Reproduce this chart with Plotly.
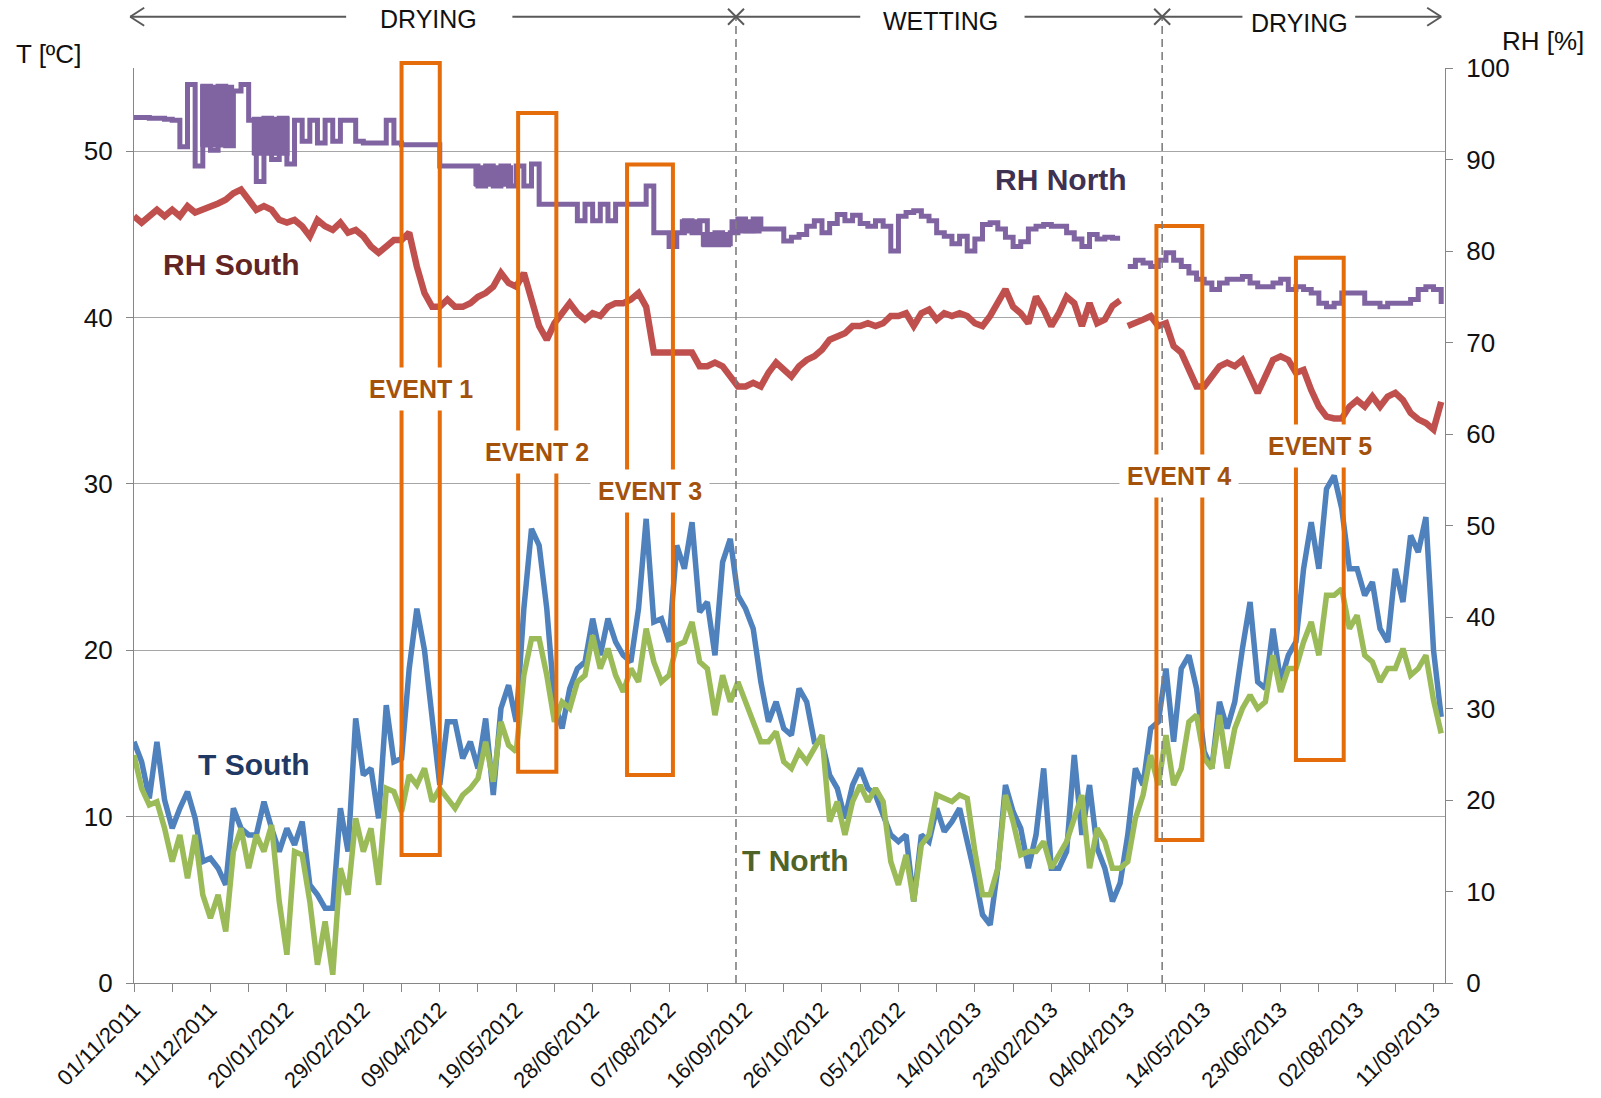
import pandas as pd
import plotly.graph_objects as go

# ---- data: readings sampled every 4 days from 01/11/2011 ----
START = pd.Timestamp("2011-11-01")
END = pd.Timestamp("2013-09-17")
STEP_DAYS = 4
LOGGER_GAP_DAY = 518  # RH loggers were offline briefly around this day

t_south = [
    14.5, 13.3, 11.1, 14.5, 11.0, 9.3, 10.5, 11.5, 9.9, 7.3,
    7.5, 6.9, 5.9, 10.5, 9.3, 8.9, 8.9, 10.9, 9.3, 7.9,
    9.3, 8.3, 9.7, 5.9, 5.3, 4.5, 4.5, 10.5, 7.9, 15.9,
    12.5, 12.9, 9.9, 16.7, 13.3, 13.5, 18.9, 22.5, 20.0, 15.9,
    11.9, 15.7, 15.7, 13.5, 14.5, 12.9, 15.9, 11.3, 16.5, 17.9,
    15.7, 22.5, 27.3, 26.3, 22.5, 16.9, 15.3, 17.7, 18.9, 19.3,
    21.9, 19.7, 21.9, 20.5, 19.7, 19.3, 22.5, 27.9, 21.7, 21.9,
    20.5, 26.3, 24.9, 27.7, 22.3, 22.9, 19.7, 25.3, 26.7, 23.3,
    22.5, 21.3, 18.1, 15.7, 16.9, 15.3, 14.9, 17.7, 16.9, 14.5,
    14.5, 12.5, 11.7, 9.9, 11.9, 12.9, 11.7, 11.3, 10.1, 8.9,
    8.5, 8.9, 4.9, 8.9, 8.5, 10.5, 9.1, 9.7, 10.5, 8.5,
    6.5, 4.1, 3.5, 6.9, 11.9, 10.3, 9.3, 6.9, 8.9, 12.9,
    6.9, 6.9, 7.9, 13.7, 8.9, 11.9, 8.1, 6.9, 4.9, 6.0,
    8.9, 12.9, 11.9, 15.3, 15.7, 18.9, 14.5, 18.9, 19.7, 17.7,
    13.9, 12.9, 16.9, 15.3, 16.9, 20.1, 22.9, 18.1, 17.7, 21.3,
    18.1, 19.7, 20.5, 24.9, 27.7, 24.9, 29.7, 30.5, 28.5, 24.9,
    24.9, 23.3, 24.1, 21.3, 20.5, 24.9, 22.9, 26.9, 25.9, 28.0,
    20.0, 16.0,
]

t_north = [
    13.7, 11.7, 10.7, 10.9, 9.3, 7.3, 8.9, 6.3, 8.9, 5.3,
    3.9, 5.3, 3.1, 7.9, 9.3, 6.9, 8.9, 7.9, 9.5, 4.9,
    1.7, 7.9, 7.7, 4.9, 1.1, 3.7, 0.5, 6.9, 5.3, 9.9,
    7.9, 9.3, 5.9, 11.7, 11.5, 10.3, 12.5, 11.9, 12.9, 10.9,
    11.7, 11.1, 10.5, 11.3, 11.7, 12.3, 14.5, 12.1, 15.7, 14.3,
    13.9, 18.5, 20.7, 20.7, 18.5, 15.7, 16.9, 16.5, 18.1, 18.5,
    20.9, 18.9, 20.1, 18.5, 17.5, 18.9, 18.1, 21.3, 19.3, 18.1,
    18.5, 20.3, 20.5, 21.7, 19.3, 18.9, 16.1, 18.5, 16.9, 18.1,
    16.9, 15.7, 14.5, 14.5, 15.1, 13.3, 12.9, 13.9, 13.3, 14.1,
    14.9, 9.7, 10.9, 8.9, 10.9, 11.9, 10.9, 11.7, 10.9, 7.3,
    5.9, 7.7, 4.9, 8.3, 8.9, 11.3, 11.1, 10.9, 11.3, 11.1,
    7.9, 5.3, 5.3, 6.9, 11.3, 9.7, 7.7, 7.9, 7.9, 8.5,
    6.9, 7.7, 8.5, 9.9, 11.3, 6.9, 9.3, 8.5, 6.9, 6.9,
    7.3, 9.9, 11.3, 13.7, 11.9, 14.9, 11.9, 12.9, 15.7, 16.1,
    13.5, 12.9, 16.1, 12.9, 15.3, 16.5, 17.3, 16.5, 16.9, 19.7,
    17.5, 18.9, 18.9, 20.5, 21.7, 19.7, 23.3, 23.3, 23.7, 21.3,
    22.1, 19.7, 19.3, 18.1, 18.9, 18.9, 20.1, 18.5, 18.9, 19.7,
    17.0, 15.0,
]

rh_south = [
    83.8, 83.1, 83.8, 84.5, 83.8, 84.5, 83.8, 84.9, 84.2, 84.5,
    84.9, 85.2, 85.6, 86.3, 86.7, 85.6, 84.5, 84.9, 84.5, 83.4,
    83.1, 83.4, 82.7, 81.6, 83.4, 82.7, 82.3, 83.1, 82.0, 82.3,
    81.6, 80.5, 79.8, 80.5, 81.2, 81.2, 82.0, 78.3, 75.4, 73.9,
    73.9, 74.7, 73.9, 73.9, 74.3, 75.0, 75.4, 76.1, 77.6, 76.5,
    76.1, 77.6, 74.7, 71.8, 70.3, 72.1, 73.2, 74.3, 73.2, 72.5,
    73.2, 72.9, 73.9, 74.3, 74.3, 74.7, 75.4, 73.9, 68.9, 68.9,
    68.9, 68.9, 68.9, 68.9, 67.4, 67.4, 67.8, 67.4, 66.3, 65.2,
    65.2, 65.6, 65.2, 66.7, 67.8, 67.0, 66.3, 67.4, 68.1, 68.5,
    69.2, 70.3, 70.7, 71.0, 71.8, 71.8, 72.1, 71.8, 72.1, 72.9,
    72.9, 73.2, 71.8, 73.2, 73.6, 72.5, 73.2, 72.9, 73.2, 72.9,
    72.1, 71.8, 72.9, 74.3, 75.8, 73.9, 73.2, 72.1, 75.0, 73.6,
    71.8, 73.2, 75.0, 74.3, 71.8, 74.3, 72.1, 72.5, 74.0, 74.6,
    71.8, 72.1, 72.5, 72.9, 71.8, 72.1, 69.6, 68.9, 67.0, 65.2,
    65.2, 66.3, 67.4, 67.8, 67.4, 68.1, 66.3, 64.5, 66.3, 68.1,
    68.5, 68.1, 66.7, 67.0, 64.8, 63.0, 61.9, 61.7, 61.7, 63.0,
    63.7, 63.0, 64.1, 63.0, 64.1, 64.5, 63.7, 62.3, 61.6, 61.2,
    60.5, 63.5,
]

rh_north = [
    94.6, 94.6, 94.5, 94.5, 94.4, 94.3, 91.4, 98.2, 89.3, 98.0,
    91.0, 98.0, 91.5, 97.5, 98.2, 94.3, 87.6, 94.5, 90.0, 94.5,
    89.5, 94.3, 92.0, 94.3, 91.8, 94.3, 92.0, 94.3, 94.3, 92.0,
    91.8, 91.8, 91.8, 94.3, 91.8, 91.6, 91.6, 91.6, 91.6, 91.6,
    89.3, 89.3, 89.3, 89.3, 89.3, 87.1, 89.3, 87.1, 89.3, 87.1,
    89.3, 87.1, 89.5, 85.1, 85.1, 85.1, 85.1, 85.1, 83.3, 85.1,
    83.3, 85.1, 83.3, 85.1, 85.1, 85.1, 85.1, 87.1, 82.0, 82.0,
    80.5, 82.0, 83.3, 82.0, 83.3, 80.8, 82.0, 80.8, 82.0, 83.5,
    82.2, 83.5, 82.4, 82.4, 82.4, 81.1, 81.5, 81.8, 82.7, 83.3,
    82.0, 83.0, 84.0, 83.3, 83.9, 83.0, 82.7, 83.3, 82.7, 80.0,
    83.8, 84.2, 84.4, 83.8, 83.3, 82.0, 81.6, 80.8, 81.6, 80.0,
    81.3, 82.9, 83.1, 82.4, 81.5, 80.5, 81.0, 82.4, 82.7, 82.9,
    82.7, 82.7, 82.0, 81.3, 80.5, 81.8, 81.3, 81.5, 81.4, 81.4,
    78.3, 79.0, 78.7, 78.3, 79.0, 79.8, 79.0, 78.3, 77.6, 76.9,
    76.5, 75.8, 76.5, 76.9, 76.9, 77.2, 76.5, 76.1, 76.1, 76.5,
    76.9, 75.8, 76.1, 75.8, 75.4, 74.3, 73.9, 74.3, 75.4, 75.4,
    75.4, 74.3, 74.3, 73.9, 74.3, 74.3, 74.3, 74.7, 75.8, 76.1,
    75.8, 74.2,
]

# periods where the RH North sensor flickers rapidly between two levels
rh_north_band_start = ["2011-12-06", "2012-01-02", "2012-04-27", "2012-08-13", "2012-08-24", "2012-09-08"]
rh_north_band_end = ["2011-12-23", "2012-01-21", "2012-05-17", "2012-08-24", "2012-09-08", "2012-09-24"]
rh_north_band_low = [91.4, 90.5, 87.1, 82.0, 80.5, 82.0]
rh_north_band_high = [98.1, 94.6, 89.3, 83.4, 82.0, 83.4]

x_tick_dates = [
    "2011-11-01", "2011-12-11", "2012-01-20", "2012-02-29", "2012-04-09",
    "2012-05-19", "2012-06-28", "2012-08-07", "2012-09-16", "2012-10-26",
    "2012-12-05", "2013-01-14", "2013-02-23", "2013-04-04", "2013-05-14",
    "2013-06-23", "2013-08-02", "2013-09-11",
]
x_minor_dates = [
    "2011-11-21", "2011-12-31", "2012-02-09", "2012-03-20", "2012-04-29",
    "2012-06-08", "2012-07-18", "2012-08-27", "2012-10-06", "2012-11-15",
    "2012-12-25", "2013-02-03", "2013-03-15", "2013-04-24", "2013-06-03",
    "2013-07-13", "2013-08-22",
]
t_ticks = [0, 10, 20, 30, 40, 50]
rh_ticks = [0, 10, 20, 30, 40, 50, 60, 70, 80, 90, 100]

# highlighted events: window (dates) and temperature extent of each box
event_names = ["EVENT 1", "EVENT 2", "EVENT 3", "EVENT 4", "EVENT 5"]
event_start = ["2012-03-20", "2012-05-20", "2012-07-16", "2013-04-19", "2013-07-01"]
event_end = ["2012-04-09", "2012-06-09", "2012-08-09", "2013-05-13", "2013-07-26"]
event_t_low = [7.7, 12.7, 12.5, 8.6, 13.4]
event_t_high = [55.3, 52.3, 49.2, 45.5, 43.6]
event_label_t = [35.7, 31.9, 29.6, 30.5, 32.3]

# drying / wetting phase boundaries
phase_changes = ["2012-09-11", "2013-04-22"]

assert all(len(s) == 172 for s in (t_south, t_north, rh_south, rh_north))

day_offsets = list(range(0, 172 * STEP_DAYS, STEP_DAYS))
dates = list(START + pd.to_timedelta(day_offsets, unit="D"))


def with_gap(values):
    """Insert a break in the line at the logger gap."""
    xs, ys = [], []
    for d, x, v in zip(day_offsets, dates, values):
        if d - STEP_DAYS < LOGGER_GAP_DAY <= d:
            xs.append(START + pd.Timedelta(days=LOGGER_GAP_DAY))
            ys.append(None)
        xs.append(x)
        ys.append(v)
    return xs, ys


T_MAX = 55.0
SPAN_DAYS = (END - START).days


def px(date_str):
    """Paper x-fraction of a date on the time axis."""
    return (pd.Timestamp(date_str) - START).days / SPAN_DAYS


def mid(a, b):
    ta, tb = pd.Timestamp(a), pd.Timestamp(b)
    return ta + (tb - ta) / 2


BASE_FAMILY = "Liberation Sans Narrow, Arial Narrow, Liberation Sans, Arial"
TICK_FONT = dict(family=BASE_FAMILY, size=26, color="#111111")
XTICK_FONT = dict(family=BASE_FAMILY, size=22, color="#111111")
TOP_FONT = dict(family=BASE_FAMILY, size=25, color="#111111")
AXIS_GRAY = "#868686"
RH_NORTH_COLOR = "#8064A2"

# flicker bands drawn as closed polygons on the RH axis
band_x, band_y = [], []
for s, e, lo, hi in zip(rh_north_band_start, rh_north_band_end, rh_north_band_low, rh_north_band_high):
    band_x += [s, e, e, s, s, None]
    band_y += [lo, lo, hi, hi, lo, None]

rhn_x, rhn_y = with_gap(rh_north)
rhs_x, rhs_y = with_gap(rh_south)

fig = go.Figure()
fig.add_trace(go.Scatter(x=band_x, y=band_y, yaxis="y2", mode="lines", fill="toself",
                         fillcolor=RH_NORTH_COLOR, line=dict(color=RH_NORTH_COLOR, width=1.5),
                         hoverinfo="skip", name="RH North flicker"))
fig.add_trace(go.Scatter(x=rhn_x, y=rhn_y, yaxis="y2", mode="lines", name="RH North",
                         line=dict(color=RH_NORTH_COLOR, width=5, shape="hv")))
fig.add_trace(go.Scatter(x=rhs_x, y=rhs_y, yaxis="y2", mode="lines", name="RH South",
                         line=dict(color="#C0504D", width=6.5)))
fig.add_trace(go.Scatter(x=dates, y=t_south, mode="lines", name="T South",
                         line=dict(color="#4F81BD", width=5.5)))
fig.add_trace(go.Scatter(x=dates, y=t_north, mode="lines", name="T North",
                         line=dict(color="#9BBB59", width=5.5)))

shapes = []
annotations = []

# event boxes and labels
for name, s, e, lo, hi, ly in zip(event_names, event_start, event_end,
                                  event_t_low, event_t_high, event_label_t):
    shapes.append(dict(type="rect", xref="x", yref="paper", x0=s, x1=e,
                       y0=lo / T_MAX, y1=hi / T_MAX,
                       line=dict(color="#E46C0A", width=4), layer="above"))
    annotations.append(dict(x=mid(s, e), y=ly, xref="x", yref="y", text="<b>" + name + "</b>",
                            xanchor="center", yanchor="middle",
                            showarrow=False, bgcolor="white", borderpad=7,
                            font=dict(family="Liberation Sans, Arial", size=25, color="#A4520B")))

# phase boundaries
TOP_Y = 1.056
for d in phase_changes:
    shapes.append(dict(type="line", xref="x", yref="paper", x0=d, x1=d, y0=0, y1=TOP_Y,
                       line=dict(color="#7F7F7F", width=1.6, dash="8px,5px"), layer="above"))
    for dy in (-1, 1):
        shapes.append(dict(type="line", xref="x", yref="paper", xsizemode="pixel",
                           ysizemode="pixel", xanchor=d, yanchor=TOP_Y,
                           x0=-8, x1=8, y0=-8 * dy, y1=8 * dy,
                           line=dict(color="#595959", width=2)))

# phase arrow line along the top
arrow_segments = [
    ("2011-10-30", "2012-02-20"), ("2012-05-17", "2012-09-11"),
    ("2012-09-11", "2012-11-15"), ("2013-02-09", "2013-04-22"),
    ("2013-04-22", "2013-06-03"), ("2013-08-01", "2013-09-15"),
]
for a, b in arrow_segments:
    shapes.append(dict(type="line", xref="paper", yref="paper", x0=px(a), x1=px(b),
                       y0=TOP_Y, y1=TOP_Y, line=dict(color="#595959", width=2)))
for tip, sign in ((arrow_segments[0][0], 1), (arrow_segments[-1][1], -1)):
    for dy in (-1, 1):
        shapes.append(dict(type="line", xref="paper", yref="paper", xsizemode="pixel",
                           ysizemode="pixel", xanchor=px(tip), yanchor=TOP_Y,
                           x0=0, x1=14 * sign, y0=0, y1=9 * dy,
                           line=dict(color="#595959", width=2)))

for text, d, y in (("DRYING", "2012-04-03", 1.0535), ("WETTING", "2012-12-27", 1.051),
                   ("DRYING", "2013-07-03", 1.049)):
    annotations.append(dict(x=px(d), y=y, xref="paper", yref="paper", text=text,
                            xanchor="center", yanchor="middle",
                            showarrow=False, font=TOP_FONT))

# series labels
for text, d, t, color in (("RH South", "2011-12-22", 43.2, "#632523"),
                          ("RH North", "2013-02-28", 48.3, "#3F3151"),
                          ("T South", "2012-01-03", 13.15, "#1F3864"),
                          ("T North", "2012-10-12", 7.38, "#4F6228")):
    annotations.append(dict(x=d, y=t, xref="x", yref="y", text="<b>" + text + "</b>",
                            xanchor="center", yanchor="middle", showarrow=False,
                            font=dict(family="Liberation Sans, Arial", size=30, color=color)))

# axis titles
annotations.append(dict(x=-0.065, y=1.0155, xref="paper", yref="paper", text="T [ºC]",
                        xanchor="center", yanchor="middle", showarrow=False, font=TICK_FONT))
annotations.append(dict(x=1.075, y=1.029, xref="paper", yref="paper", text="RH [%]",
                        xanchor="center", yanchor="middle", showarrow=False, font=TICK_FONT))

fig.update_layout(
    width=1601, height=1098,
    margin=dict(l=134, r=156, t=68, b=115, autoexpand=False),
    paper_bgcolor="white", plot_bgcolor="white",
    showlegend=False,
    shapes=shapes, annotations=annotations,
    xaxis=dict(
        type="date", range=[START, END], automargin=False,
        tickmode="array", tickvals=x_tick_dates, tickformat="%d/%m/%Y",
        tickangle=-45, tickfont=XTICK_FONT, ticklabelstandoff=-4,
        ticks="outside", ticklen=8, tickcolor=AXIS_GRAY, tickwidth=1.3,
        minor=dict(tickmode="array", tickvals=x_minor_dates, ticks="outside",
                   ticklen=8, tickcolor=AXIS_GRAY, tickwidth=1.3, showgrid=False),
        showline=True, linecolor=AXIS_GRAY, linewidth=1.3,
        showgrid=False, zeroline=False,
    ),
    yaxis=dict(
        range=[0, T_MAX], automargin=False, tickmode="array", tickvals=t_ticks,
        tickfont=TICK_FONT,
        ticks="outside", ticklen=7, tickcolor=AXIS_GRAY, ticklabelstandoff=8,
        showline=True, linecolor=AXIS_GRAY, linewidth=1.3,
        showgrid=True, gridcolor="#A6A6A6", gridwidth=1.3, zeroline=False,
    ),
    yaxis2=dict(
        overlaying="y", side="right", range=[0, 100], automargin=False,
        tickmode="array", tickvals=rh_ticks,
        tickfont=TICK_FONT, ticks="outside", ticklen=7, tickcolor=AXIS_GRAY,
        ticklabelstandoff=8,
        showline=True, linecolor=AXIS_GRAY, linewidth=1.3,
        showgrid=False, zeroline=False,
    ),
)

fig.write_html("out.html")
